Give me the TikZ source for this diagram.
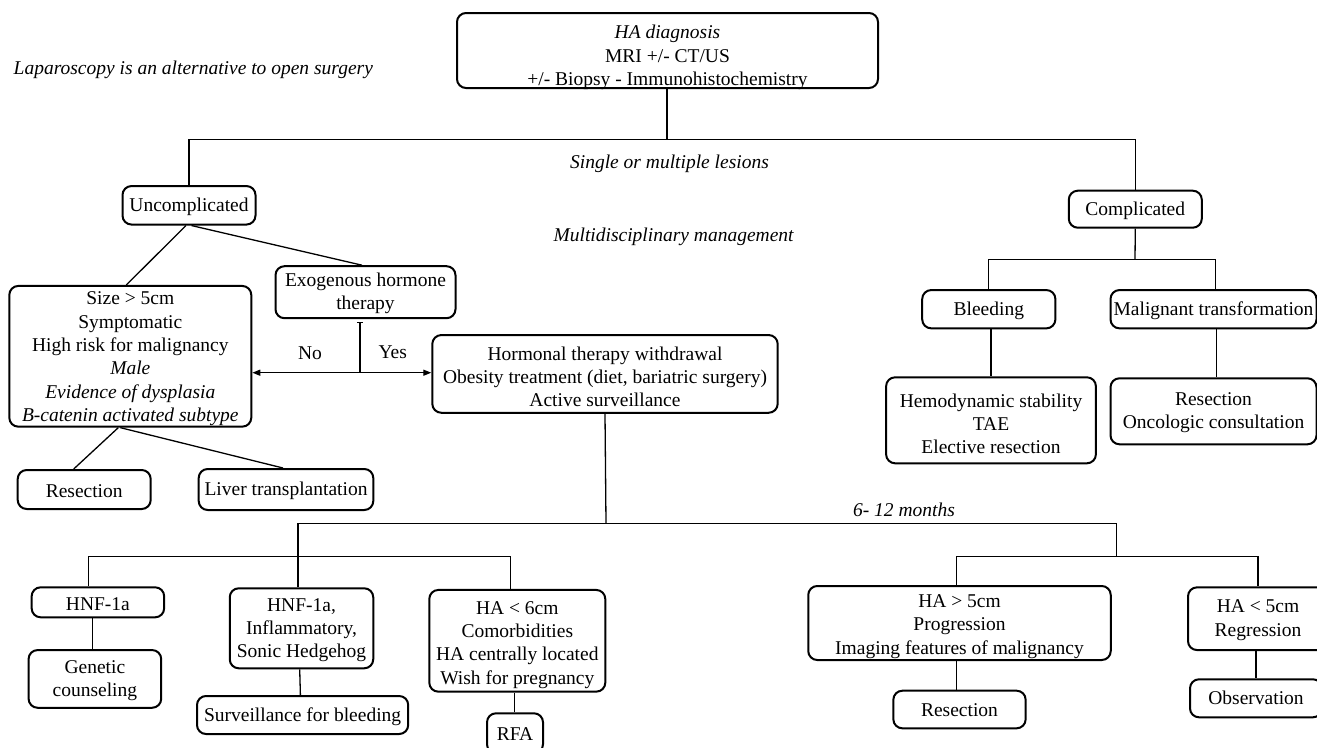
\documentclass[tikz,border=0pt]{standalone}
\usepackage{fontspec}
\setmainfont{Liberation Serif}
\usetikzlibrary{arrows.meta,calc}
\newcommand\figfont{\fontsize{19.5}{23.3}\selectfont}
\begin{document}
\begin{tikzpicture}[x=1pt,y=-1pt,
  box/.style={draw, line width=2pt, rounded corners=9pt, inner sep=0pt},
  txt/.style={inner sep=0pt, align=center, font=\figfont},
  lbl/.style={inner sep=0pt, font=\figfont\itshape},
  conn/.style={line width=1.3pt},
  tip/.style={-{Triangle[length=8pt,width=6pt]}}]
\useasboundingbox (0,0) rectangle (1317,747);

% boxes (frames)
\node[box, minimum width=421pt, minimum height=75pt] (top) at (667.5,50.5) {};
\node[box, minimum width=133pt, minimum height=38.5pt] (unc) at (189,205.3) {};
\node[box, minimum width=133pt, minimum height=37pt] (comp) at (1135.3,209.2) {};
\node[box, minimum width=180pt, minimum height=52pt] (exo) at (365.5,292.2) {};
\node[box, minimum width=242pt, minimum height=140.7pt] (size) at (130.3,356.3) {};
\node[box, minimum width=345.4pt, minimum height=77.7pt] (horm) at (605,373.9) {};
\node[box, minimum width=133pt, minimum height=39pt] (res1) at (84.2,489.5) {};
\node[box, minimum width=174.6pt, minimum height=41pt] (liver) at (286,489.5) {};
\node[box, minimum width=133.2pt, minimum height=38.3pt] (bleed) at (988.8,309.2) {};
\node[box, minimum width=206pt, minimum height=38.3pt] (malig) at (1213.5,309.2) {};
\node[box, minimum width=209.8pt, minimum height=86pt] (hemo) at (991,420.3) {};
\node[box, minimum width=206pt, minimum height=66pt] (onco) at (1213.5,411.3) {};
\node[box, minimum width=132.5pt, minimum height=30pt] (hnf) at (97.9,602.3) {};
\node[box, minimum width=132.6pt, minimum height=57.7pt] (gen) at (94.9,678.9) {};
\node[box, minimum width=143.5pt, minimum height=80pt] (infl) at (301.5,628.3) {};
\node[box, minimum width=211.2pt, minimum height=38pt] (surv) at (302.6,715) {};
\node[box, minimum width=176pt, minimum height=101.7pt] (ha6) at (517.3,640.8) {};
\node[box, minimum width=56pt, minimum height=40pt] (rfa) at (515,733.3) {};
\node[box, minimum width=302.5pt, minimum height=74pt] (ha5g) at (959.5,623) {};
\node[box, minimum width=132.3pt, minimum height=37.6pt] (res3) at (959.5,709.5) {};
\node[box, minimum width=140pt, minimum height=62.7pt] (ha5l) at (1258,618.7) {};
\node[box, minimum width=132pt, minimum height=38pt] (obs) at (1256,698.3) {};

% box texts
\node[txt] (top-t) at ($(top)+(0,7)$) {\textit{HA diagnosis}\\MRI +/- CT/US\\+/- Biopsy - Immunohistochemistry};
\node[txt] (unc-t) at ($(unc)+(0,1.5)$) {Uncomplicated};
\node[txt] (comp-t) at ($(comp)+(0,1.5)$) {Complicated};
\node[txt] (exo-t) at ($(exo)+(0,1)$) {Exogenous hormone\\therapy};
\node[txt] (size-t) at ($(size)+(0,2.5)$) {Size > 5cm\\Symptomatic\\High risk for malignancy\\\textit{Male}\\\textit{Evidence of dysplasia}\\\textit{B-catenin activated subtype}};
\node[txt] (horm-t) at ($(horm)+(0,3)$) {Hormonal therapy withdrawal\\Obesity treatment (diet, bariatric surgery)\\Active surveillance};
\node[txt] (res1-t) at ($(res1)+(0,1.5)$) {Resection};
\node[txt] (liver-t) at ($(liver)+(0,1.5)$) {Liver transplantation};
\node[txt] (bleed-t) at ($(bleed)+(0,1.5)$) {Bleeding};
\node[txt] (malig-t) at ($(malig)+(0,1.5)$) {Malignant transformation};
\node[txt] (hemo-t) at ($(hemo)+(0,3.5)$) {Hemodynamic stability\\TAE\\Elective resection};
\node[txt] (onco-t) at ($(onco)+(0,1.5)$) {Resection\\Oncologic consultation};
\node[txt] (hnf-t) at ($(hnf)+(0,1.5)$) {HNF-1a};
\node[txt] (gen-t) at ($(gen)+(0,1.5)$) {Genetic\\counseling};
\node[txt] (infl-t) at ($(infl)+(0,2)$) {HNF-1a,\\Inflammatory,\\Sonic Hedgehog};
\node[txt] (surv-t) at ($(surv)+(0,1.5)$) {Surveillance for bleeding};
\node[txt] (ha6-t) at ($(ha6)+(0,4)$) {HA < 6cm\\Comorbidities\\HA centrally located\\Wish for pregnancy};
\node[txt] (rfa-t) at ($(rfa)+(0,1)$) {RFA};
\node[txt] (ha5g-t) at ($(ha5g)+(0,3.5)$) {HA > 5cm\\Progression\\Imaging features of malignancy};
\node[txt] (res3-t) at ($(res3)+(0,1)$) {Resection};
\node[txt] (ha5l-t) at ($(ha5l)+(0,1.5)$) {HA < 5cm\\Regression};
\node[txt] (obs-t) at ($(obs)+(0,0)$) {Observation};

% free labels
\node[lbl, anchor=west] (lap) at (13.5,70) {Laparoscopy is an alternative to open surgery};
\node[lbl] (sing) at (669.5,163.5) {Single or multiple lesions};
\node[lbl] (multi) at (673.6,236.5) {Multidisciplinary management};
\node[lbl] (months) at (904,509.5) {6- 12 months};
\node[txt] (no) at (310,353) {No};
\node[txt] (yes) at (392.7,352) {Yes};

% junction coordinates
\coordinate (j1) at (667,139.3);
\coordinate (j2) at (1135,259.3);
\coordinate (j3) at (606,523.3);
\coordinate (j4) at (1116.6,523.3);
\coordinate (j5) at (1116.6,556.7);
\coordinate (k2) at (510.5,556.7);
\coordinate (yt) at (360,321.5);
\coordinate (yn) at (360,372.7);

% connectors
\draw[conn] (top.south -| j1) -- (j1);
\draw[conn] (unc.north) |- (j1) -| (comp.north);
\draw[conn] ($(unc.south)+(2.5,0)$) -- ($(exo.north)+(-3.5,0)$);
\draw[conn] ($(unc.south)+(-3,0)$) -- ($(size.north)+(-4,0)$);
\draw[conn, {Bar[width=6pt]}-] (yt) -- (yn);
\draw[conn, tip] (yn) -- (yn -| size.east);
\draw[conn, tip] (yn) -- (yn -| horm.west);
\draw[conn] ($(size.south)+(-12,0)$) -- ($(res1.north)+(-10.5,0)$);
\draw[conn] ($(size.south)+(-10,0)$) -- ($(liver.north)+(-3,0)$);

\draw[conn] (comp.south) -- (j2);
\draw[conn] (bleed.north) |- (j2) -| ($(malig.north)+(2.2,0)$);
\draw[conn] (hemo.north |- bleed.south) -- (hemo.north);
\draw[conn] ($(malig.south)+(3,0)$) -- ($(onco.north)+(3,0)$);

\draw[conn] (horm.south) -- (j3);
\draw[conn] ($(infl.north)+(-3.5,0)$) |- (j3) -- (j4) -- (j5);
\draw[conn] ($(ha5g.north)+(-3.2,0)$) |- (j5) -| (ha5l.north);
\draw[conn] ($(hnf.north)+(-9.5,0)$) |- (k2) -- (k2 |- ha6.north);
\draw[conn] ($(hnf.south)+(-5.3,0)$) -- ($(gen.north)+(-2.3,0)$);
\draw[conn] ($(infl.south)+(-1.8,0)$) -- ($(surv.north)+(-2.2,0)$);
\draw[conn] ($(ha6.south)+(-3,0)$) -- ($(rfa.north)+(-0.7,0)$);
\draw[conn] ($(ha5g.south)+(-3.2,0)$) -- ($(res3.north)+(-3.2,0)$);
\draw[conn] ($(ha5l.south)+(-2,0)$) -- (obs.north);
\end{tikzpicture}
\end{document}
